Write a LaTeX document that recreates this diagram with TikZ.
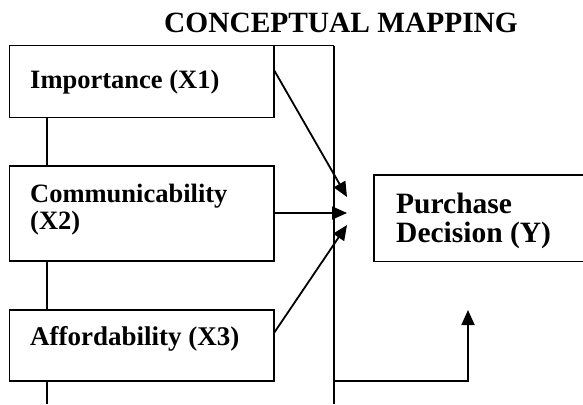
\documentclass[tikz,border=0pt]{standalone}
\usepackage{fontspec}
\setmainfont{Liberation Serif}
\usetikzlibrary{arrows.meta,calc}
\begin{document}
\begin{tikzpicture}[x=1pt,y=-1pt,
  box/.style={draw,line width=1.3pt,inner sep=0pt,outer sep=0pt},
  lbl/.style={anchor=base west,inner sep=0pt,font=\bfseries\fontsize{26.5}{27}\selectfont},
  conn/.style={line width=1.3pt},
  arr/.style={line width=1.8pt,-{Triangle[length=15pt,width=13pt]}}]
\useasboundingbox (0,0) rectangle (583,404);
\clip (0,0) rectangle (583,404);
% title
\node[anchor=base,inner sep=0pt,font=\bfseries\fontsize{29.4}{32}\selectfont] (title) at (341,33) {CONCEPTUAL MAPPING};
% boxes
\node[box,minimum width=264.5pt,minimum height=72pt] (imp) at (141.75,81.7) {};
\node[box,minimum width=264.5pt,minimum height=95pt] (comm) at (141.75,213.5) {};
\node[box,minimum width=264.5pt,minimum height=71pt] (aff) at (141.75,345.5) {};
\node[box,minimum width=240pt,minimum height=86.5pt] (pur) at (494,218.25) {};
% labels (base anchor = baseline of the last line)
\node[lbl] (timp) at (30,88) {Importance (X1)};
\node[lbl,align=left] (tcomm) at (30,229) {Communicability\\(X2)};
\node[lbl,font=\bfseries\fontsize{27}{29}\selectfont] (taff) at (30,345) {Affordability (X3)};
\node[lbl,align=left,font=\bfseries\fontsize{29.5}{29}\selectfont] (tpur) at (396,242) {Purchase\\Decision (Y)};
% frame
\coordinate (ftop) at (334,45.7);
\coordinate (fbot) at (334,404);
\coordinate (fmid) at (334,381);
\draw[conn] (imp.north east) -- (ftop);
\draw[line width=1.6pt] (ftop) -- (fbot);
% left spine
\coordinate (lbot) at (47,404);
\draw[conn] (imp.south -| 47,0) -- (comm.north -| 47,0);
\draw[conn] (comm.south -| 47,0) -- (aff.north -| 47,0);
\draw[conn] (aff.south -| 47,0) -- (lbot);
% arrows
\coordinate (t1) at (347,197);
\coordinate (t2) at (347,213);
\coordinate (t3) at (347,225);
\coordinate (t4) at (468,310);
\draw[arr] (imp.east |- 0,70) -- (t1);
\draw[arr] (comm.east |- t2) -- (t2);
\draw[arr] (aff.east |- 0,333) -- (t3);
\draw[arr] (fmid) -- (fmid -| t4) -- (t4);
\end{tikzpicture}
\end{document}
